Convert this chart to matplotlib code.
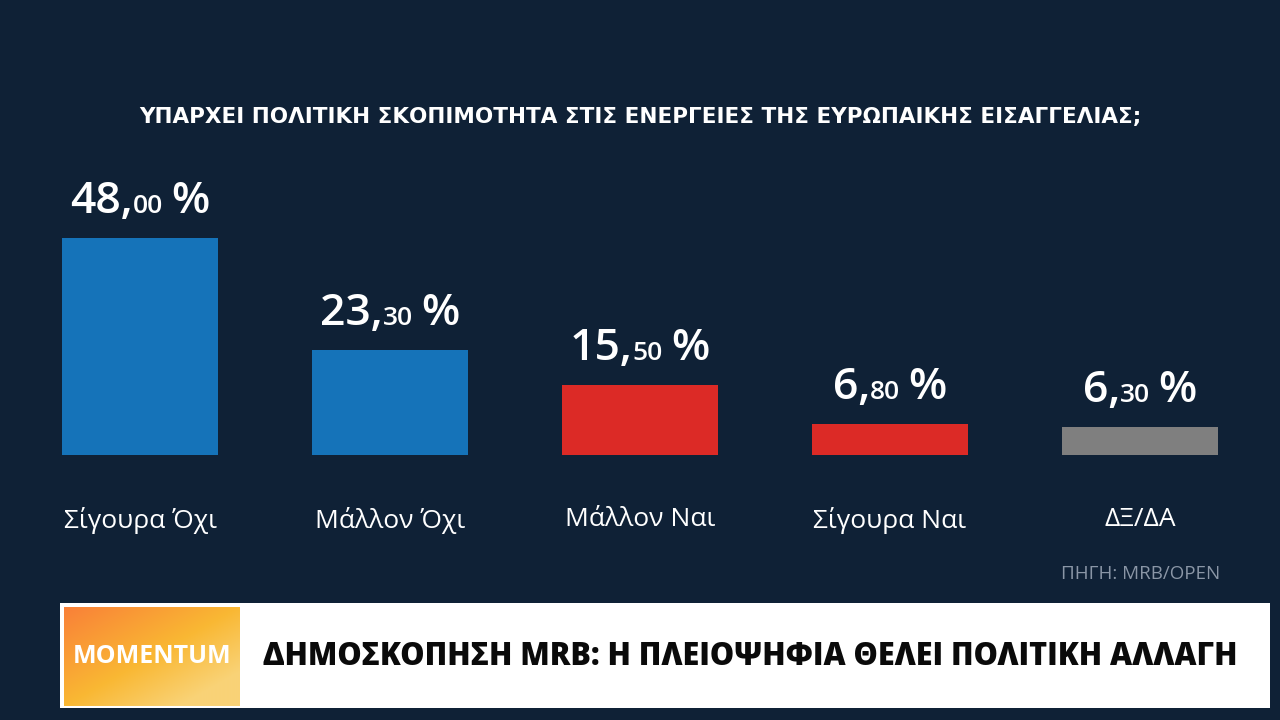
import matplotlib
matplotlib.use("Agg")
import matplotlib.pyplot as plt
import matplotlib.transforms as mtransforms
import numpy as np

categories = ["Σίγουρα Όχι", "Μάλλον Όχι", "Μάλλον Ναι", "Σίγουρα Ναι", "ΔΞ/ΔΑ"]
values = [48.00, 23.30, 15.50, 6.80, 6.30]
colors = ["#1573b9", "#1573b9", "#dc2a26", "#dc2a26", "#7f7f7f"]
title = "ΥΠΑΡΧΕΙ ΠΟΛΙΤΙΚΗ ΣΚΟΠΙΜΟΤΗΤΑ ΣΤΙΣ ΕΝΕΡΓΕΙΕΣ ΤΗΣ ΕΥΡΩΠΑΙΚΗΣ ΕΙΣΑΓΓΕΛΙΑΣ;"
source = "ΠΗΓΗ: MRB/OPEN"
banner = "ΔΗΜΟΣΚΟΠΗΣΗ MRB: Η ΠΛΕΙΟΨΗΦΙΑ ΘΕΛΕΙ ΠΟΛΙΤΙΚΗ ΑΛΛΑΓΗ"
brand = "MOMENTUM"

BG = "#0f2136"
W, H = 1280, 720
fig = plt.figure(figsize=(12.8, 7.2), dpi=100, facecolor=BG)
FONT = "Open Sans"

def fx(x): return x / W
def fy(y): return 1 - y / H

ax = fig.add_axes([fx(15), fy(455), fx(1250), 271 / H])
ax.set_facecolor("none")
x = np.arange(len(categories))
ax.bar(x, values, width=156 / 250, color=colors)
ax.set_xlim(-0.5, 4.5)
ax.set_ylim(0, 60)
ax.axis("off")

fig.text(0.5, fy(117), title, ha="center", va="center", color="white",
         fontsize=15.5, fontweight="bold", family="DejaVu Sans")

for i, c in enumerate(categories):
    fig.text(fx(140 + 250 * i), fy(520), c, ha="center", va="center",
             color="white", fontsize=19, family=FONT)

fig.canvas.draw()
r = fig.canvas.get_renderer()
for i, v in enumerate(values):
    ip, dp = f"{v:.2f}".split(".")
    parts = [(ip + ",", 32), (dp, 19), ("\u2009%", 32)]
    ts = []
    for s, fs in parts:
        t = fig.text(0, 0, s, fontsize=fs, fontweight="semibold", family=[FONT, "DejaVu Sans"],
                     color="white", va="baseline", ha="left")
        ts.append(t)
    widths = [t.get_window_extent(r).width for t in ts]
    total = sum(widths)
    cx = 140 + 250 * i
    top_px = ax.transData.transform((0, v))[1]
    base = top_px + 25
    xx = cx - total / 2
    for t, w in zip(ts, widths):
        t.set_transform(mtransforms.IdentityTransform())
        t.set_position((xx, base))
        xx += w

fig.text(fx(1220), fy(574), source, ha="right", va="center", color="#8a96a6",
         fontsize=13.5, family=FONT)

# banner
wax = fig.add_axes([fx(60), fy(708), fx(1210), (708 - 603) / H])
wax.set_facecolor("white")
wax.set_xticks([]); wax.set_yticks([])
for s in wax.spines.values():
    s.set_visible(False)

grad = np.linspace(0, 1, 100)
gx, gy = np.meshgrid(grad, grad)
t = np.clip(0.6 * gx + 0.6 * gy, 0, 1)[..., None]
c0 = np.array([0.98, 0.50, 0.22]); c1 = np.array([0.98, 0.72, 0.20]); c2 = np.array([0.98, 0.88, 0.60])
img = np.where(t < 0.6, c0 + (c1 - c0) * (t / 0.6), c1 + (c2 - c1) * ((t - 0.6) / 0.6))
img = np.clip(img, 0, 1)
bax = fig.add_axes([fx(64), fy(706), fx(176), (706 - 607) / H])
bax.imshow(img, aspect="auto", extent=[0, 1, 0, 1], origin="upper")
bax.axis("off")
bax.text(0.5, 0.5, brand, ha="center", va="center", color="white", fontsize=18,
         fontweight="bold", family=FONT, transform=bax.transAxes)
fig.text(fx(263), fy(657), banner, ha="left", va="center", color="#0a0a0a",
         fontsize=22, fontweight="heavy", family=FONT)

fig.savefig("out.png", dpi=100, facecolor=BG)
